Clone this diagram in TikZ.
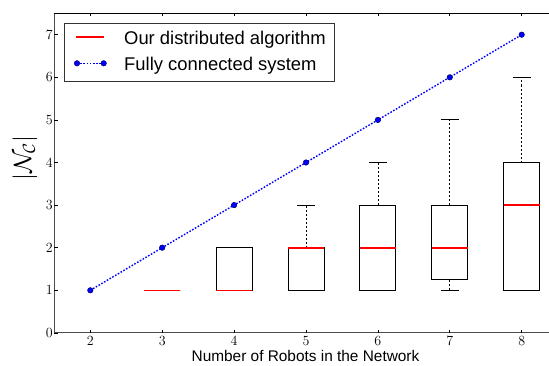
\documentclass[tikz,border=0pt]{standalone}
\usepackage[no-math]{fontspec}
\newfontfamily\labelfont{Liberation Sans}
\newcommand\bxplot[6]{%
  \draw[whisk] (#1,#5) -- (#1,#2);
  \draw[whisk] (#1,#3) -- (#1,#6);
  \draw[capline] (#1-0.125,#5) -- (#1+0.125,#5);
  \draw[capline] (#1-0.125,#6) -- (#1+0.125,#6);
  \draw[boxline] (#1-0.25,#2) rectangle (#1+0.25,#3);
}
\newcommand\medplot[2]{%
  \draw[medline] (#1-0.25,#2) -- (#1+0.25,#2);
}
\begin{document}
\begin{tikzpicture}[
  boxline/.style={draw=black, line width=0.9pt},
  medline/.style={draw=red, line width=1.6pt},
  whisk/.style={draw=black, line width=0.8pt, dash pattern=on 2pt off 2pt},
  capline/.style={draw=black, line width=0.9pt},
  fullline/.style={draw=blue, line width=1.4pt, dash pattern=on 1.6pt off 1.6pt},
  mk/.style={circle, fill=blue, draw=black!60!blue, line width=0.5pt, inner sep=0pt, minimum size=5.5pt},
  spine/.style={draw=black!70, line width=1.1pt},
  tickmark/.style={draw=black, line width=0.7pt},
  ticklab/.style={font=\fontsize{14}{14}\selectfont, inner sep=0pt},
  legtext/.style={font=\labelfont\fontsize{18.4}{20}\selectfont, anchor=base west, inner sep=0pt},
]
\useasboundingbox (0,0) rectangle (549pt,365pt);
\clip (0,0) rectangle (549pt,365pt);
\fill[white] (0,0) rectangle (549pt,365pt);
\begin{scope}[shift={(-53.5pt,32.1pt)}, x=71.9pt, y=42.6pt]
  % box plots: n, q1, q3, median, whisker low, whisker high
  \bxplot{3}{1}{1}{1}{1}{1}
  \bxplot{4}{1}{2}{1}{1}{2}
  \bxplot{5}{1}{2}{2}{1}{3}
  \bxplot{6}{1}{3}{2}{1}{4}
  \bxplot{7}{1.25}{3}{2}{1}{5}
  \bxplot{8}{1}{4}{3}{1}{6}
  \medplot{3}{1}
  \medplot{4}{1}
  \medplot{5}{2}
  \medplot{6}{2}
  \medplot{7}{2}
  \medplot{8}{3}
  % fully connected
  \foreach \n in {2,...,8} {\coordinate (p\n) at (\n,\n-1);}
  \draw[fullline] (p2) -- (p3) -- (p4) -- (p5) -- (p6) -- (p7) -- (p8);
  \foreach \n in {2,...,8} {\node[mk] (m\n) at (p\n) {};}
  % axes
  \draw[spine] (1.5,7.5) -- (1.5,0) -- (8.5,0);
  \draw[draw=black, line width=1pt] (1.5,7.5) -- (8.5,7.5);
  \foreach \n in {2,...,8} {
    \draw[tickmark] (\n,0) -- (\n,0.07);
    \draw[tickmark] (\n,7.5) -- (\n,7.43);
    \node[ticklab, anchor=north] (xl\n) at ([yshift=-3.4pt]\n,0) {\n};
  }
  \foreach \v in {0,...,7} {
    \draw[tickmark] (1.5,\v) -- (1.545,\v);
    \node[ticklab, anchor=east] (yl\v) at ([xshift=-1.5pt]1.5,\v) {\v};
  }
\end{scope}
% axis labels
\node[font=\labelfont\fontsize{15.4}{16}\selectfont, anchor=base, inner sep=0pt] (xlab) at (305.5pt,4pt) {Number of Robots in the Network};
\node[rotate=90, font=\fontsize{24}{24}\selectfont, inner sep=0pt] (ylab) at (25pt,207pt) {$|\mathcal{N}_\mathcal{C}|$};
% legend
\draw[draw=black!80, line width=0.9pt, fill=white] (64pt,284pt) rectangle (334pt,342pt);
\coordinate (la) at (76pt,328pt);
\coordinate (lb) at (104pt,328pt);
\draw[medline] (la) -- (lb);
\coordinate (lc) at (77pt,301.7pt);
\coordinate (ld) at (103.7pt,301.7pt);
\draw[fullline] (lc) -- (ld);
\node[mk] (lm1) at (lc) {};
\node[mk] (lm2) at (ld) {};
\node[legtext] (t1) at (124pt,320.3pt) {Our distributed algorithm};
\node[legtext] (t2) at (124pt,294.3pt) {Fully connected system};
\end{tikzpicture}
\end{document}
